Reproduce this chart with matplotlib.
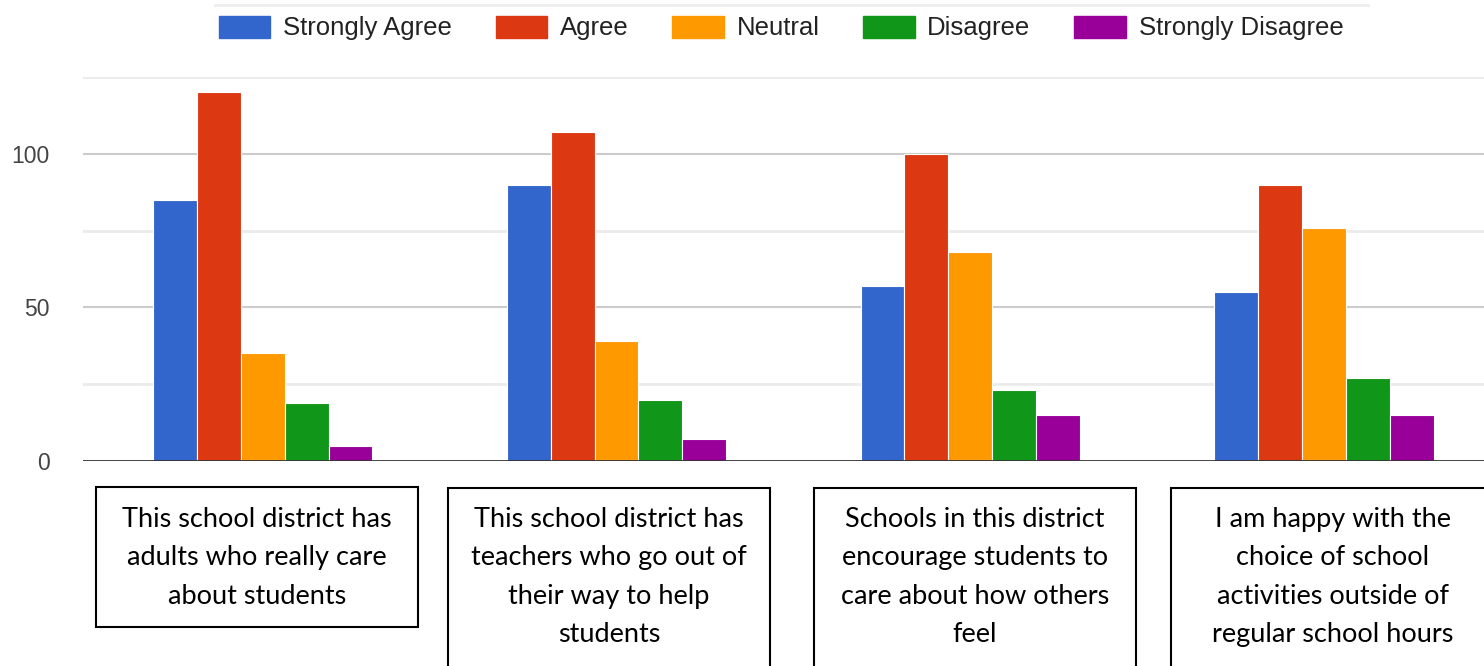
import numpy as np
import matplotlib.pyplot as plt
from matplotlib.patches import Rectangle
from matplotlib.lines import Line2D

questions = [
    "This school district has\nadults who really care\nabout students",
    "This school district has\nteachers who go out of\ntheir way to help\nstudents",
    "Schools in this district\nencourage students to\ncare about how others\nfeel",
    "I am happy with the\nchoice of school\nactivities outside of\nregular school hours",
]
responses = ["Strongly Agree", "Agree", "Neutral", "Disagree", "Strongly Disagree"]
strongly_agree = [85, 90, 57, 55]
agree = [120, 107, 100, 90]
neutral = [35, 39, 68, 76]
disagree = [19, 20, 23, 27]
strongly_disagree = [5, 7, 15, 15]
colors = ["#3366cc", "#dc3912", "#ff9900", "#109618", "#990099"]

W, H = 1484, 666
fig = plt.figure(figsize=(W / 100, H / 100), dpi=100)
ax = fig.add_axes([83 / W, 1 - 461 / H, 1 - 83 / W, (461 - 77) / H])

series = [strongly_agree, agree, neutral, disagree, strongly_disagree]
x = np.arange(len(questions))
bw = 0.124
for i, (name, vals) in enumerate(zip(responses, series)):
    ax.bar(x + (i - 2) * bw, vals, width=bw, color=colors[i], edgecolor="white",
           linewidth=0.8, label=name, zorder=3)

ax.set_xlim(-0.508, 3.452)
ax.set_ylim(0, 125)
for y in [25, 75, 125]:
    ax.axhline(y, color="#ebebeb", lw=2, zorder=1)
for y in [50, 100]:
    ax.axhline(y, color="#cccccc", lw=1.5, zorder=1)
ax.axhline(0, color="#333333", lw=2, zorder=4)
ax.set_yticks([0, 50, 100])
ax.set_xticks([])
ax.tick_params(axis="y", length=0, pad=24, labelsize=16.5, labelcolor="#444444")
for lab in ax.get_yticklabels():
    lab.set_fontfamily("Liberation Sans")
for s in ax.spines.values():
    s.set_visible(False)

# faint line above the legend
fig.add_artist(Line2D([215 / W, 1368 / W], [1 - 5 / H, 1 - 5 / H], color="#eeeeee", lw=2))

handles = [Rectangle((0, 0), 1, 1, color=c) for c in colors]
fig.legend(handles, responses, loc="center", bbox_to_anchor=(781 / W, 1 - 28 / H), ncol=5,
           frameon=False, prop={"family": "Liberation Sans", "size": 18.5},
           handlelength=2.0, handleheight=0.95, handletextpad=0.5, columnspacing=1.7,
           labelcolor="#222222")

# question boxes under each group
boxes = [(96, 487, 322, 140), (448, 488, 322, 200), (814, 488, 322, 200), (1171, 488, 322, 200)]
centers = [257, 609, 975, 1333]
for (bx, by, bwid, bh), cx, q in zip(boxes, centers, questions):
    fig.add_artist(Rectangle((bx / W, 1 - (by + bh) / H), bwid / W, bh / H,
                             transform=fig.transFigure, fill=False, edgecolor="black", lw=1.5))
    fig.text(cx / W, 1 - 507 / H, q, ha="center", va="top", family="Lato", fontsize=19.5,
             linespacing=1.67, color="black")

fig.savefig("out.png", dpi=100)
